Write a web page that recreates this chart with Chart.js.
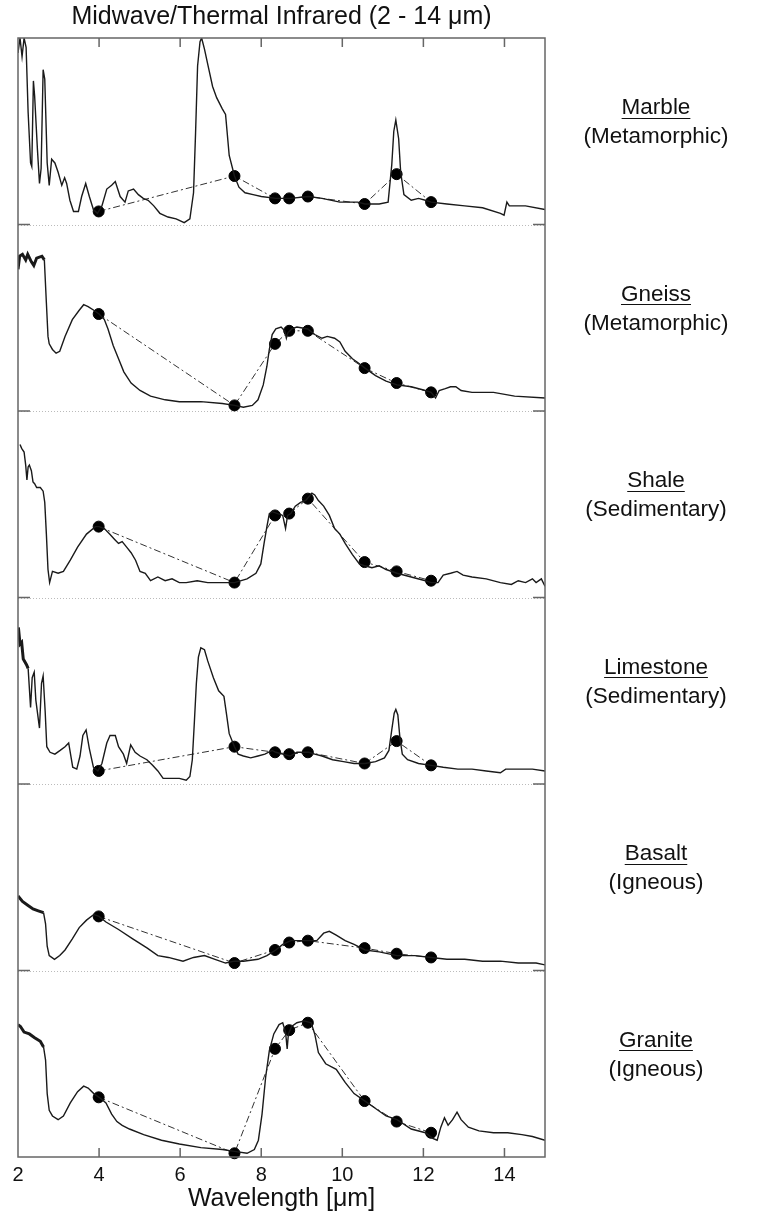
<!DOCTYPE html>
<html>
<head>
<meta charset="utf-8">
<title>Midwave/Thermal Infrared (2 - 14 μm)</title>
<script src="https://cdn.jsdelivr.net/npm/chart.js"></script>
<style>
  html, body { margin: 0; padding: 0; background: #fff; }
  canvas { display: block; }
</style>
</head>
<body>
<canvas id="chart" width="767" height="1214"></canvas>
<script>
// 岩石名称与类别（从上到下）
const rockNames = ['Marble', 'Gneiss', 'Shale', 'Limestone', 'Basalt', 'Granite'];
const rockClasses = ['(Metamorphic)', '(Metamorphic)', '(Sedimentary)', '(Sedimentary)', '(Igneous)', '(Igneous)'];

// x 轴刻度 (μm)
const xTicks = [2, 4, 6, 8, 10, 12, 14];

// 波段中心波长 (μm)
const bandWl = [3.99, 7.34, 8.34, 8.69, 9.15, 10.55, 11.34, 12.19];

// 短波端噪声较大的区段（μm 上限，0 = 无）
const noisyEnd = [0, 2.62, 0, 2.24, 2.6, 2.6];

// 光谱数据：波长 + 相对值（每个面板 0-100）
const marbleWl = [2.0, 2.05, 2.1, 2.15, 2.2, 2.25, 2.31, 2.34, 2.38, 2.41, 2.48, 2.53, 2.57, 2.62, 2.66, 2.72, 2.77, 2.83, 2.91, 2.99,
  3.08, 3.15, 3.2, 3.28, 3.37, 3.49, 3.57, 3.67, 3.76, 3.86, 3.96, 4.07, 4.19, 4.31, 4.4, 4.52, 4.64, 4.72, 4.85, 4.97,
  5.09, 5.21, 5.35, 5.5, 5.7, 5.9, 6.1, 6.24, 6.33, 6.38, 6.43, 6.49, 6.53, 6.6, 6.7, 6.8, 6.9, 7.04, 7.12, 7.21,
  7.34, 7.45, 7.6, 7.8, 8.0, 8.36, 8.71, 9.17, 9.5, 9.94, 10.38, 10.56, 10.91, 11.13, 11.22, 11.27, 11.32, 11.39, 11.44, 11.52,
  11.7, 11.88, 12.05, 12.19, 12.58, 13.02, 13.46, 13.9, 13.99, 14.06, 14.12, 14.52, 15.0];
const marbleVal = [92, 100, 90, 100, 95, 60, 33, 31, 77, 69, 40, 22, 30, 83, 78, 33, 21, 35, 33, 28,
  21, 25, 22, 13, 7, 7, 15, 22, 15, 8, 6, 10, 19, 21, 23, 15, 12, 18, 19, 16,
  14, 13, 10, 6, 4, 3, 1, 3, 17, 49, 85, 98, 100, 94, 84, 74, 68, 62, 59, 37,
  26, 20, 17, 16, 15, 14, 14, 15, 14, 12, 12, 11, 11, 12, 32, 50, 56, 46, 28, 16,
  13, 14, 13, 12, 11, 10, 9, 6, 5, 12, 10, 10, 8];
const marbleBand = [7, 26, 14, 14, 15, 11, 27, 12];

const gneissWl = [2.0, 2.04, 2.11, 2.19, 2.24, 2.33, 2.39, 2.46, 2.59, 2.65, 2.7, 2.74, 2.77, 2.85, 2.94, 3.03, 3.16, 3.34, 3.51, 3.62,
  3.73, 3.87, 4.0, 4.13, 4.22, 4.35, 4.48, 4.61, 4.79, 5.01, 5.27, 5.63, 5.98, 6.51, 7.04, 7.34, 7.56, 7.78, 7.92, 8.05,
  8.14, 8.2, 8.27, 8.36, 8.49, 8.58, 8.62, 8.66, 8.75, 8.88, 9.15, 9.32, 9.5, 9.63, 9.81, 9.94, 10.07, 10.25, 10.38, 10.56,
  10.82, 11.08, 11.35, 11.7, 12.05, 12.19, 12.3, 12.39, 12.54, 12.67, 12.8, 12.93, 13.2, 13.73, 14.25, 15.0];
const gneissVal = [76, 83, 84, 81, 84, 80, 78, 82, 83, 81, 58, 40, 36, 33, 31, 32, 40, 49, 54, 57,
  56, 54, 52, 49, 44, 35, 28, 21, 15, 11, 8, 6, 5, 5, 4, 3, 2, 3, 6, 14,
  24, 33, 41, 44, 45, 43, 39, 42, 44, 45, 44, 41, 39, 40, 39, 37, 32, 28, 26, 23,
  19, 16, 14, 13, 11, 10, 7, 11, 12, 13, 13, 11, 10, 10, 8, 7];
const gneissBand = [52, 3, 36, 43, 43, 23, 15, 10];

const shaleWl = [2.05, 2.09, 2.15, 2.19, 2.22, 2.25, 2.28, 2.33, 2.37, 2.41, 2.46, 2.55, 2.62, 2.66, 2.7, 2.74, 2.78, 2.85, 2.99, 3.12,
  3.29, 3.47, 3.69, 3.91, 4.0, 4.13, 4.26, 4.39, 4.48, 4.57, 4.68, 4.79, 4.9, 5.01, 5.14, 5.27, 5.45, 5.63, 5.8, 5.98,
  6.15, 6.42, 6.68, 7.04, 7.34, 7.65, 7.87, 7.99, 8.07, 8.14, 8.2, 8.27, 8.53, 8.6, 8.65, 8.73, 8.84, 8.97, 9.1, 9.25,
  9.32, 9.41, 9.54, 9.68, 9.81, 9.94, 10.07, 10.25, 10.42, 10.56, 10.73, 10.91, 11.08, 11.35, 11.7, 12.05, 12.19, 12.36, 12.49, 12.67,
  12.83, 12.98, 13.2, 13.55, 13.9, 14.17, 14.34, 14.52, 14.69, 14.78, 14.91, 15.0];
const shaleVal = [82, 80, 78, 71, 63, 70, 71, 68, 62, 61, 59, 59, 57, 51, 34, 15, 8, 14, 13, 14,
  20, 27, 34, 38, 38, 37, 34, 31, 29, 30, 27, 24, 20, 14, 13, 9, 11, 9, 10, 8,
  8, 9, 8, 8, 8, 10, 13, 18, 29, 38, 45, 46, 44, 37, 44, 45, 49, 51, 52, 56,
  55, 52, 49, 44, 37, 34, 29, 23, 18, 17, 16, 17, 15, 13, 11, 9, 8, 8, 12, 13,
  14, 12, 11, 10, 8, 7, 9, 8, 10, 8, 10, 6];
const shaleBand = [38, 8, 44, 45, 53, 19, 14, 9];

const limestoneWl = [2.01, 2.05, 2.09, 2.13, 2.21, 2.25, 2.31, 2.35, 2.4, 2.44, 2.53, 2.58, 2.62, 2.67, 2.71, 2.79, 2.91, 3.04, 3.16, 3.25,
  3.35, 3.45, 3.53, 3.6, 3.68, 3.76, 3.86, 3.97, 4.07, 4.19, 4.27, 4.4, 4.48, 4.6, 4.68, 4.78, 4.89, 5.01, 5.18, 5.32,
  5.45, 5.58, 5.8, 5.98, 6.15, 6.24, 6.3, 6.35, 6.4, 6.45, 6.51, 6.6, 6.68, 6.82, 6.95, 7.08, 7.14, 7.21, 7.34, 7.43,
  7.56, 7.74, 7.92, 8.09, 8.27, 8.36, 8.53, 8.71, 8.88, 9.17, 9.32, 9.5, 9.76, 10.03, 10.29, 10.56, 10.82, 11.04, 11.15, 11.22,
  11.28, 11.32, 11.37, 11.42, 11.48, 11.61, 11.88, 12.19, 12.49, 12.85, 13.2, 13.55, 13.9, 14.03, 14.17, 14.43, 14.69, 15.0];
const limestoneVal = [84, 75, 76, 67, 64, 62, 41, 57, 60, 45, 30, 54, 58, 39, 20, 17, 16, 18, 20, 22,
  9, 8, 15, 26, 29, 19, 9, 7, 11, 22, 26, 26, 20, 16, 11, 21, 17, 15, 13, 10,
  7, 3, 3, 3, 2, 4, 13, 33, 54, 68, 73, 72, 66, 57, 50, 47, 38, 27, 20, 16,
  15, 14, 15, 16, 18, 17, 16, 15, 17, 17, 16, 15, 13, 12, 11, 11, 12, 14, 18, 29,
  38, 40, 37, 25, 16, 13, 11, 10, 9, 8, 8, 7, 6, 8, 8, 8, 8, 7];
const limestoneBand = [7, 20, 17, 16, 17, 11, 23, 10];

const basaltWl = [2.0, 2.11, 2.24, 2.37, 2.5, 2.63, 2.68, 2.72, 2.77, 2.9, 3.03, 3.16, 3.34, 3.51, 3.69, 3.87, 4.0, 4.17, 4.48, 4.83,
  5.19, 5.45, 5.71, 6.07, 6.33, 6.6, 6.86, 7.12, 7.34, 7.56, 7.92, 8.14, 8.36, 8.53, 8.73, 8.97, 9.17, 9.37, 9.54, 9.68,
  9.85, 10.07, 10.29, 10.56, 10.91, 11.35, 11.79, 12.19, 12.58, 13.02, 13.46, 13.9, 14.34, 14.78, 15.0];
const basaltVal = [40, 37, 35, 33, 32, 31, 25, 13, 8, 6, 8, 11, 17, 23, 27, 30, 29, 26, 22, 17,
  12, 8, 7, 5, 7, 8, 6, 4, 5, 5, 6, 8, 11, 14, 16, 16, 16, 16, 20, 21,
  19, 16, 14, 11, 10, 8, 8, 7, 6, 6, 5, 5, 4, 4, 3];
const basaltBand = [29, 4, 11, 15, 16, 12, 9, 7];

const graniteWl = [2.0, 2.06, 2.15, 2.28, 2.41, 2.55, 2.63, 2.68, 2.72, 2.77, 2.85, 2.99, 3.12, 3.29, 3.47, 3.62, 3.73, 3.87, 4.0, 4.17,
  4.31, 4.44, 4.57, 4.75, 5.1, 5.54, 5.98, 6.51, 7.04, 7.34, 7.65, 7.83, 7.93, 8.02, 8.11, 8.2, 8.31, 8.44, 8.53, 8.6,
  8.64, 8.67, 8.75, 8.88, 9.06, 9.23, 9.32, 9.41, 9.59, 9.85, 10.07, 10.29, 10.56, 10.82, 11.08, 11.35, 11.7, 12.05, 12.23, 12.34,
  12.43, 12.52, 12.61, 12.72, 12.83, 12.93, 13.11, 13.37, 13.73, 14.08, 14.43, 14.69, 15.0];
const graniteVal = [71, 70, 67, 66, 64, 62, 59, 52, 34, 25, 22, 20, 22, 29, 35, 38, 37, 34, 32, 29,
  23, 19, 17, 15, 12, 9, 7, 5, 4, 3, 2, 4, 9, 23, 43, 57, 66, 71, 72, 67,
  58, 66, 70, 72, 73, 72, 66, 56, 50, 47, 40, 34, 30, 26, 22, 20, 15, 13, 10, 9,
  16, 21, 17, 20, 24, 20, 16, 14, 13, 13, 12, 11, 9];
const graniteBand = [32, 2, 58, 68, 72, 30, 19, 13];

const spectra = [
  [marbleWl, marbleVal, marbleBand],
  [gneissWl, gneissVal, gneissBand],
  [shaleWl, shaleVal, shaleBand],
  [limestoneWl, limestoneVal, limestoneBand],
  [basaltWl, basaltVal, basaltBand],
  [graniteWl, graniteVal, graniteBand]
];

const FONT = "'Liberation Sans', Arial, sans-serif";

// 组装数据集与堆叠的 y 轴
const scales = {
  x: {
    type: 'linear',
    position: 'bottom',
    min: 2,
    max: 15,
    afterBuildTicks: axis => { axis.ticks = xTicks.map(v => ({ value: v })); },
    afterFit: axis => { axis.height = 57; },
    ticks: { font: { family: FONT, size: 20 }, color: '#111', padding: 6 },
    grid: { display: false, drawTicks: false },
    border: { display: false },
    title: { display: true, text: 'Wavelength [μm]', font: { family: FONT, size: 25 }, color: '#111', padding: { top: 0, bottom: 0 } }
  }
};
const datasets = [];
spectra.forEach(([wl, val, band], i) => {
  const id = 'y' + i;
  scales[id] = {
    type: 'linear',
    position: 'left',
    stack: 'rocks',
    stackWeight: 1,
    weight: spectra.length - i,
    min: 0,
    max: 100,
    display: false
  };
  datasets.push({
    data: wl.map((w, k) => ({ x: w, y: val[k] })),
    yAxisID: id,
    borderColor: '#1a1a1a',
    borderWidth: 1.4,
    pointRadius: 0,
    tension: 0,
    segment: {
      borderWidth: c => (c.p0.parsed.x < noisyEnd[i] ? 3 : 1.4)
    }
  });
  datasets.push({
    data: bandWl.map((w, k) => ({ x: w, y: band[k] })),
    yAxisID: id,
    borderColor: '#333',
    borderWidth: 1,
    borderDash: [7, 3, 2, 3],
    pointRadius: 5.5,
    pointBackgroundColor: '#000',
    pointBorderColor: '#000',
    clip: 6
  });
});

// 边框、分隔线、内向刻度和右侧标签
const framePlugin = {
  id: 'frame',
  beforeDatasetsDraw(chart) {
    const { ctx, chartArea: a } = chart;
    ctx.save();
    ctx.strokeStyle = '#bbb';
    ctx.lineWidth = 1;
    ctx.setLineDash([1, 2]);
    spectra.forEach((_, i) => {
      if (i === spectra.length - 1) return;
      const y = Math.round(chart.scales['y' + i].bottom) + 0.5;
      ctx.beginPath();
      ctx.moveTo(a.left, y);
      ctx.lineTo(a.right, y);
      ctx.stroke();
    });
    ctx.restore();
  },
  afterDatasetsDraw(chart) {
    const { ctx, chartArea: a } = chart;
    const xs = chart.scales.x;
    ctx.save();
    ctx.strokeStyle = '#666';
    ctx.lineWidth = 1.5;
    ctx.strokeRect(a.left, a.top, a.right - a.left, a.bottom - a.top);
    ctx.beginPath();
    xTicks.forEach(v => {
      if (v === 2) return;
      const x = xs.getPixelForValue(v);
      ctx.moveTo(x, a.top); ctx.lineTo(x, a.top + 9);
      ctx.moveTo(x, a.bottom); ctx.lineTo(x, a.bottom - 9);
    });
    spectra.forEach((_, i) => {
      if (i === spectra.length - 1) return;
      const y = chart.scales['y' + i].bottom;
      ctx.moveTo(a.left, y); ctx.lineTo(a.left + 12, y);
      ctx.moveTo(a.right, y); ctx.lineTo(a.right - 12, y);
    });
    ctx.stroke();

    // 右侧岩石名称
    ctx.fillStyle = '#111';
    ctx.strokeStyle = '#111';
    ctx.lineWidth = 1;
    ctx.textAlign = 'center';
    ctx.textBaseline = 'middle';
    ctx.font = `22.5px ${FONT}`;
    const cx = 656;
    spectra.forEach((_, i) => {
      const s = chart.scales['y' + i];
      const h = s.bottom - s.top;
      const y1 = s.top + h * 0.375;
      const y2 = s.top + h * 0.53;
      ctx.fillText(rockNames[i], cx, y1);
      const w = ctx.measureText(rockNames[i]).width;
      ctx.beginPath();
      ctx.moveTo(cx - w / 2, Math.round(y1 + 10) + 0.5);
      ctx.lineTo(cx + w / 2, Math.round(y1 + 10) + 0.5);
      ctx.stroke();
      ctx.fillText(rockClasses[i], cx, y2);
    });
    ctx.restore();
  }
};

new Chart(document.getElementById('chart'), {
  type: 'line',
  data: { datasets },
  options: {
    responsive: false,
    animation: false,
    layout: { padding: { left: 18, right: 222, top: 0, bottom: 0 } },
    scales,
    plugins: {
      legend: { display: false },
      tooltip: { enabled: false },
      title: {
        display: true,
        fullSize: false,
        text: 'Midwave/Thermal Infrared (2 - 14 μm)',
        font: { family: FONT, size: 25, weight: 'normal' },
        color: '#111',
        padding: { top: 2, bottom: 6 }
      }
    }
  },
  plugins: [framePlugin]
});
</script>
</body>
</html>
